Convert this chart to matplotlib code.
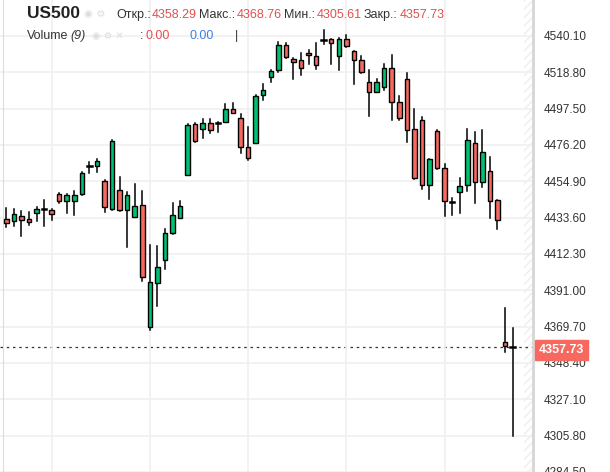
import matplotlib
matplotlib.use("Agg")
import matplotlib.pyplot as plt
from matplotlib.patches import Rectangle

plt.rcParams['font.family'] = ['Liberation Sans', 'DejaVu Sans']

opens = [4432.7,4431.5,4434.8,4432.7,4436.2,4438.4,4437.9,4447.3,4443.2,4443.2,4447.3,4463.8,4463.6,4454.8,4438.5,4449.6,4437.9,4433.9,4440.9,4369.2,
         4395.4,4408.8,4424.3,4433.6,4458.5,4488.2,4485.7,4489.2,4488.9,4489.8,4497.4,4491.9,4475.2,4477.5,4505.3,4516.0,4520.1,4534.7,4526.5,4525.9,
         4530.0,4528.3,4537.7,4538.2,4528.3,4538.2,4531.2,4525.9,4513.1,4507.3,4510.2,4521.3,4501.5,4514.9,4485.7,4491.0,4452.5,4484.6,4462.4,4442.3,
         4448.4,4452.5,4477.0,4454.3,4460.7,4443.8,4360.4,4358.29]
highs = [4439.1,4438.5,4437.4,4437.1,4439.7,4444.1,4438.7,4448.0,4447.3,4449.0,4460.4,4466.3,4467.7,4455.4,4479.0,4457.2,4448.4,4453.1,4449.0,4417.3,
         4417.0,4426.9,4442.0,4443.2,4488.2,4488.8,4491.1,4491.6,4489.4,4500.3,4500.9,4494.5,4486.9,4505.3,4512.0,4520.3,4536.4,4535.8,4527.3,4529.8,
         4531.9,4535.8,4543.4,4538.4,4538.8,4540.5,4531.4,4528.3,4520.1,4514.9,4523.6,4528.9,4505.0,4518.4,4497.4,4492.7,4468.2,4485.1,4464.7,4445.3,
         4456.6,4485.7,4484.0,4485.1,4468.8,4444.0,4380.8,4368.76]
lows = [4427.8,4428.6,4422.8,4429.5,4431.3,4428.6,4431.9,4442.0,4436.2,4435.0,4447.1,4459.5,4460.1,4436.8,4438.3,4437.7,4416.4,4433.7,4396.6,4368.0,
        4382.0,4403.6,4424.0,4433.3,4458.3,4477.6,4480.5,4483.4,4484.0,4489.6,4494.6,4471.3,4467.1,4477.3,4502.6,4513.1,4518.7,4526.9,4514.9,4517.0,
        4523.4,4520.7,4535.3,4523.6,4520.1,4533.5,4512.0,4518.4,4493.3,4507.1,4508.5,4491.0,4491.0,4477.6,4456.4,4450.2,4444.4,4462.2,4434.4,4435.0,
        4436.2,4449.0,4442.0,4451.3,4433.3,4426.9,4354.6,4305.61]
closes = [4430.7,4435.6,4432.3,4430.9,4438.5,4438.6,4435.6,4443.2,4446.9,4446.9,4459.5,4464.0,4466.8,4439.7,4478.7,4437.9,4446.7,4440.3,4398.9,4396.0,
          4404.7,4424.5,4435.0,4440.3,4488.1,4478.2,4488.8,4485.1,4489.1,4497.4,4495.0,4474.7,4468.6,4505.1,4508.5,4519.5,4534.7,4527.7,4524.8,4521.3,
          4528.9,4523.0,4537.9,4535.8,4538.2,4534.1,4525.9,4518.9,4507.3,4513.1,4521.3,4501.5,4492.1,4485.1,4456.9,4452.5,4467.7,4462.8,4443.2,4442.5,
          4451.9,4479.3,4454.3,4472.3,4443.2,4432.1,4358.1,4357.73]
yticks = [4540.10,4518.80,4497.50,4476.20,4454.90,4433.60,4412.30,4391.00,4369.70,4348.40,4327.10,4305.80,4284.50]
last_price = 4357.73

GREEN = "#00c073"
RED = "#f7685f"

fig = plt.figure(figsize=(6.10, 4.72), dpi=100)
ax = fig.add_axes([0, 0, 533/610, 1])
ax.set_xlim(-0.83, 69.7)
ax.set_ylim(4286.0, 4561.08)

w = 0.6
for i, (o, h, l, c) in enumerate(zip(opens, highs, lows, closes)):
    col = GREEN if c >= o else RED
    ax.plot([i, i], [l, h], color="black", lw=1.1, zorder=2)
    bot, top = min(o, c), max(o, c)
    if top - bot < 0.6:
        ax.plot([i - w/2, i + w/2], [c, c], color="black", lw=1.8, zorder=3)
    else:
        ax.add_patch(Rectangle((i - w/2, bot), w, top - bot, facecolor=col,
                               edgecolor="black", lw=1.0, zorder=3))

ax.set_yticks(yticks)
ax.set_yticklabels([f"{v:.2f}" for v in yticks])
ax.yaxis.tick_right()
ax.tick_params(axis="y", length=0, pad=8, labelsize=8.5, labelcolor="#333333")
ax.set_xticks([6, 19, 32, 45, 58])
ax.tick_params(axis="x", length=0, labelbottom=False)
ax.grid(True, color="#f0f0f0", lw=1.2, zorder=0)
for s in ["top", "bottom"]:
    ax.spines[s].set_visible(False)
ax.spines["left"].set_color("#dddddd")
ax.spines["left"].set_position(("data", -0.45))
ax.spines["right"].set_color("#d6d6d6")
ax.spines["right"].set_linewidth(2)

ax.axvspan(68.45, 69.7, facecolor="none", edgecolor="#eeeeee", hatch="////", lw=0, zorder=1)
ax.axhline(last_price, color="#333333", lw=0.9, ls=(0, (2, 3)), zorder=1)

fig.text(539/610, 1 - 350/472, f"{last_price:.2f}", color="white", fontsize=9,
         fontweight="bold", va="center", ha="left",
         bbox=dict(boxstyle="square,pad=0.3", fc=RED, ec=RED))

def ft(x, y, s, **kw):
    fig.text(x/610, 1 - y/472, s, va="center", ha="left", **kw)

ft(27, 14, "US500", fontsize=12.5, fontweight="bold", color="#222222")
ft(84, 14, "◉ ⚙", fontsize=7.5, color="#dddddd", family=["DejaVu Sans"])
hdr = [(116, "Откр.:", "#333333"), (152, "4358.29", "#e0514f"),
       (199, "Макс.:", "#333333"), (237, "4368.76", "#e0514f"),
       (284, "Мин.:", "#333333"), (317, "4305.61", "#e0514f"),
       (364, "Закр.:", "#333333"), (400, "4357.73", "#e0514f")]
for x, s, c in hdr:
    ft(x, 15, s, fontsize=9, color=c)
ft(27, 36, "Volume", fontsize=9, color="#333333")
ft(70, 36, "(9)", fontsize=9, color="#333333", style="italic")
ft(92, 36, "◉ ⚙ ✕", fontsize=7, color="#dddddd", family=["DejaVu Sans"])
ft(140, 36, ":", fontsize=9, color="#333333")
ft(145, 36, "0.00", fontsize=9, color="#e0514f")
ft(190, 36, "0.00", fontsize=9, color="#3d7fe6")
ft(235, 36, "|", fontsize=9, color="#333333")

fig.savefig("out.png", dpi=100)
